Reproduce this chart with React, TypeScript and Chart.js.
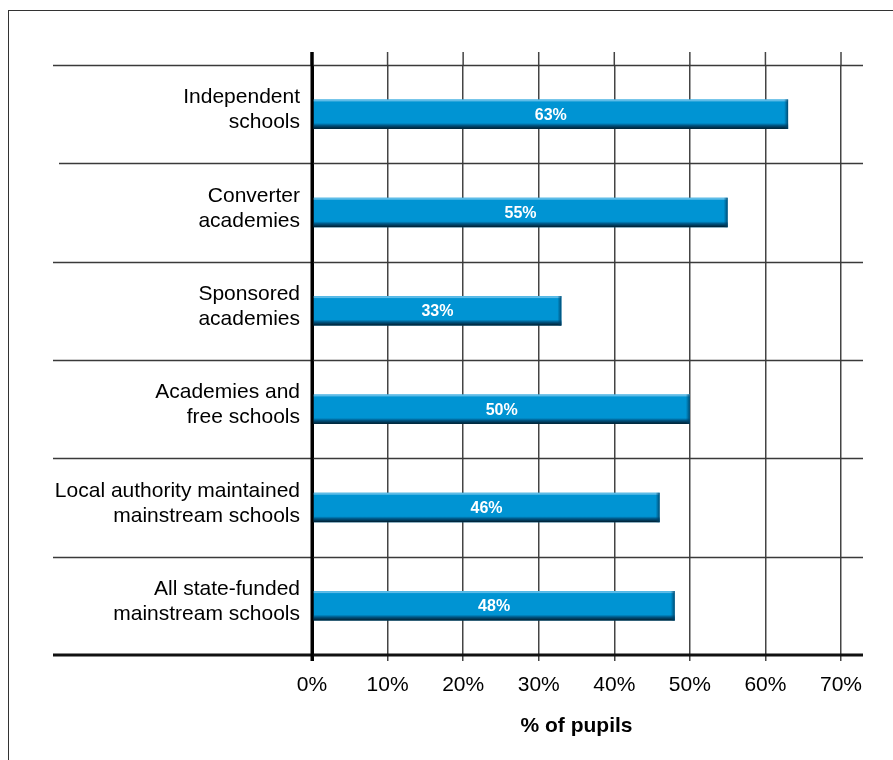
import React, { useEffect, useRef } from "react";
import { Chart, registerables } from "chart.js";

Chart.register(...registerables);

// School types (two-line labels) and share of pupils, in percent
const schoolTypes: string[][] = [
  ["Independent", "schools"],
  ["Converter", "academies"],
  ["Sponsored", "academies"],
  ["Academies and", "free schools"],
  ["Local authority maintained", "mainstream schools"],
  ["All state-funded", "mainstream schools"],
];
const pupilShare: number[] = [63, 55, 33, 50, 46, 48];
const axisTicks: number[] = [0, 10, 20, 30, 40, 50, 60, 70];
const axisTitle = "% of pupils";

const FONT = "'Liberation Sans', Arial, Helvetica, sans-serif";

// Extra rules, axis lines and bar shading
const framePlugin = {
  id: "frame",
  beforeDatasetsDraw(chart: any) {
    const { ctx, chartArea, scales } = chart;
    const y = scales.y;
    const x = scales.x;
    const n = schoolTypes.length;
    const band = (y.bottom - y.top) / n;
    ctx.save();
    // vertical grid stubs above the plot
    axisTicks.forEach((t) => {
      const px = x.getPixelForValue(t);
      ctx.beginPath();
      ctx.strokeStyle = t === 0 ? "#000" : "#444";
      ctx.lineWidth = t === 0 ? 3 : 1.5;
      ctx.moveTo(px, chartArea.top - 13);
      ctx.lineTo(px, chartArea.top);
      ctx.stroke();
    });
    // horizontal separators between categories
    for (let i = 0; i < n; i++) {
      const py = Math.round(y.top + i * band) + 0.5;
      ctx.beginPath();
      ctx.strokeStyle = "#3a3a3a";
      ctx.lineWidth = 1.5;
      ctx.moveTo(i === 1 ? 59 : 53, py);
      ctx.lineTo(863, py);
      ctx.stroke();
    }
    ctx.restore();
  },
  afterDatasetsDraw(chart: any) {
    const { ctx, scales } = chart;
    const x = scales.x;
    const y = scales.y;
    const meta = chart.getDatasetMeta(0);
    ctx.save();
    meta.data.forEach((bar: any, i: number) => {
      const { x: xe, y: yc, base, height } = bar.getProps(["x", "y", "base", "height"], true);
      const top = yc - height / 2;
      const bot = yc + height / 2;
      const left = Math.min(base, xe);
      const right = Math.max(base, xe);
      // top highlight
      ctx.fillStyle = "rgba(110,195,235,0.85)";
      ctx.fillRect(left, top, right - left, 2);
      // bottom shadow
      const g = ctx.createLinearGradient(0, bot - 6, 0, bot);
      g.addColorStop(0, "rgba(0,90,140,0)");
      g.addColorStop(0.4, "rgba(0,80,125,0.9)");
      g.addColorStop(1, "rgba(0,25,40,1)");
      ctx.fillStyle = g;
      ctx.fillRect(left, bot - 6, right - left, 6);
      // right edge shading
      const gr = ctx.createLinearGradient(right - 4, 0, right, 0);
      gr.addColorStop(0, "rgba(0,70,110,0)");
      gr.addColorStop(1, "rgba(0,60,95,0.85)");
      ctx.fillStyle = gr;
      ctx.fillRect(right - 4, top, 4, height);
      // value label
      ctx.fillStyle = "#ffffff";
      ctx.font = `bold 16px ${FONT}`;
      ctx.textAlign = "center";
      ctx.textBaseline = "middle";
      ctx.fillText(`${pupilShare[i]}%`, (left + right) / 2, yc + 1);
    });
    // axis lines
    ctx.strokeStyle = "#111";
    ctx.lineWidth = 3;
    ctx.beginPath();
    ctx.moveTo(53, y.bottom);
    ctx.lineTo(863, y.bottom);
    ctx.stroke();
    const x0 = x.getPixelForValue(0);
    ctx.strokeStyle = "#000";
    ctx.beginPath();
    ctx.moveTo(x0, y.top - 13);
    ctx.lineTo(x0, y.bottom + 6);
    ctx.stroke();
    ctx.restore();
  },
};

export default function App() {
  const canvasRef = useRef<HTMLCanvasElement | null>(null);

  useEffect(() => {
    if (!canvasRef.current) return;
    const chart = new Chart(canvasRef.current, {
      type: "bar",
      data: {
        labels: schoolTypes,
        datasets: [
          {
            data: pupilShare,
            backgroundColor: "#0094d3",
            borderWidth: 0,
            barPercentage: 0.3,
            categoryPercentage: 1,
          },
        ],
      },
      options: {
        indexAxis: "y",
        animation: false,
        responsive: false,
        maintainAspectRatio: false,
        layout: { padding: { top: 65, right: 52, left: 0, bottom: 0 } },
        plugins: {
          legend: { display: false },
          tooltip: { enabled: false },
        },
        scales: {
          x: {
            min: 0,
            max: 70,
            afterBuildTicks: (scale: any) => {
              scale.ticks = axisTicks.map((v) => ({ value: v }));
            },
            afterFit: (scale: any) => {
              scale.height = 105;
            },
            border: { display: false },
            grid: {
              color: (c: any) => (c.tick && c.tick.value === 0 ? "#000" : "#444"),
              lineWidth: (c: any) => (c.tick && c.tick.value === 0 ? 3 : 1.5),
              drawTicks: true,
              tickLength: 6,
            },
            ticks: {
              padding: 12,
              color: "#000",
              font: { family: FONT, size: 21 },
              maxRotation: 0,
              callback: (v: any) => `${v}%`,
            },
            title: {
              display: true,
              text: axisTitle,
              color: "#000",
              font: { family: FONT, size: 21, weight: "bold" },
              padding: { top: 0, bottom: 21 },
            },
          },
          y: {
            afterFit: (scale: any) => {
              scale.width = 312;
            },
            border: { display: false },
            grid: { display: false, drawTicks: false },
            ticks: {
              padding: 12,
              color: "#000",
              labelOffset: -4,
              font: { family: FONT, size: 21, lineHeight: 1.19 },
            },
          },
        },
      },
      plugins: [framePlugin],
    });
    return () => chart.destroy();
  }, []);

  return (
    <div
      style={{
        position: "absolute",
        left: 0,
        top: 0,
        width: 893,
        height: 760,
        overflow: "hidden",
        background: "#fff",
      }}
    >
      <div
        style={{
          position: "absolute",
          left: 8,
          top: 10,
          width: 1000,
          height: 1000,
          borderTop: "1px solid #333",
          borderLeft: "1px solid #333",
        }}
      />
      <canvas
        ref={canvasRef}
        width={893}
        height={760}
        style={{ position: "absolute", left: 0, top: 0, width: 893, height: 760 }}
      />
    </div>
  );
}
